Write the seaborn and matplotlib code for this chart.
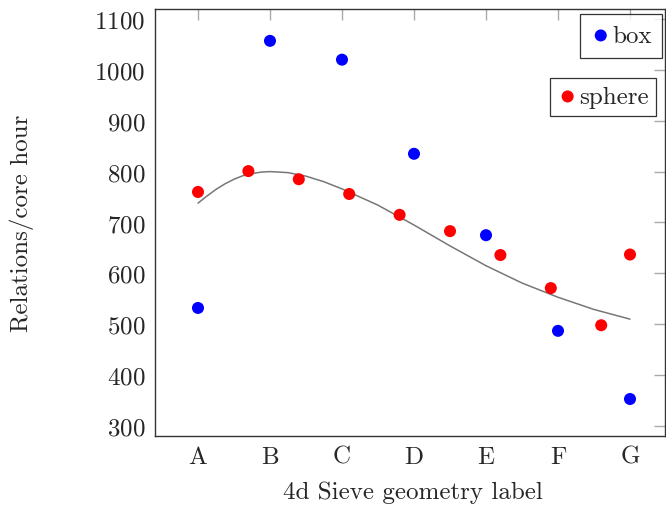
import matplotlib
matplotlib.use("Agg")
import matplotlib.pyplot as plt
import seaborn as sns

# geometry labels on the x axis
labels = ["A", "B", "C", "D", "E", "F", "G"]

# box geometry: one value per label
box_x = [0, 1, 2, 3, 4, 5, 6]
box_y = [532, 1057, 1020, 835, 675, 487, 353]

# sphere geometry: sampled between labels
sphere_x = [0, 0.7, 1.4, 2.1, 2.8, 3.5, 4.2, 4.9, 5.6, 6.0]
sphere_y = [760, 801, 785, 756, 715, 683, 636, 571, 498, 637]

# trend curve
trend_x = [0, 0.125, 0.25, 0.375, 0.5, 0.625, 0.75, 0.875, 1.0, 1.25, 1.5, 1.75,
           2.0, 2.5, 3.0, 3.5, 4.0, 4.5, 5.0, 5.5, 6.0]
trend_y = [738, 752, 765, 776, 785, 792, 796, 799, 800, 798, 791, 780,
           766, 734, 695, 654, 615, 581, 553, 529, 510]

sns.set_style("white")
plt.rcParams["font.family"] = ["cmr10", "DejaVu Serif"]
plt.rcParams["axes.formatter.use_mathtext"] = True
FS = 18

fig = plt.figure(figsize=(6.66, 5.06), dpi=100)
ax = fig.add_axes([155 / 666, 1 - 437 / 506, 510 / 666, 427 / 506])

sns.lineplot(x=trend_x, y=trend_y, color="#777777", linewidth=1.1, ax=ax)

h_box = ax.scatter(box_x, box_y, s=75, color="#0000ff", edgecolors="none", zorder=3, label="box")
h_sph = ax.scatter(sphere_x, sphere_y, s=75, color="#ff0000", edgecolors="none", zorder=3, label="sphere")

ax.set_xlim(-0.597, 6.486)
ax.set_ylim(280.3, 1119.6)
ax.set_xticks(box_x)
ax.set_xticklabels(labels)
ax.set_yticks(range(300, 1101, 100))
ax.tick_params(direction="in", length=8, width=1, color="#aaaaaa", labelsize=FS,
               top=True, right=True, pad=7)
for s in ax.spines.values():
    s.set_color("#333333")
    s.set_linewidth(1.0)

ax.set_xlabel("4d Sieve geometry label", fontsize=FS)
ax.set_ylabel("Relations/core hour", fontsize=FS)
ax.xaxis.set_label_coords((413 - 155) / 510, (437 - 493) / 427)
ax.yaxis.set_label_coords((22 - 155) / 510, 0.5)
ax.xaxis.label.set_va("center")
ax.yaxis.label.set_va("center")

leg_kw = dict(fontsize=FS, frameon=True, fancybox=False, edgecolor="black",
              handletextpad=0.05, handlelength=0.8, borderaxespad=0)
leg1 = ax.legend(handles=[h_box], loc="upper right", borderpad=0.42,
                 bbox_to_anchor=(662 / 666, 1 - 15 / 506), bbox_transform=fig.transFigure, **leg_kw)
leg1.get_frame().set_linewidth(0.9)
ax.add_artist(leg1)
leg2 = ax.legend(handles=[h_sph], loc="upper right", borderpad=0.3,
                 bbox_to_anchor=(656 / 666, 1 - 79 / 506), bbox_transform=fig.transFigure, **leg_kw)
leg2.get_frame().set_linewidth(0.9)

fig.savefig("out.png", dpi=100)
